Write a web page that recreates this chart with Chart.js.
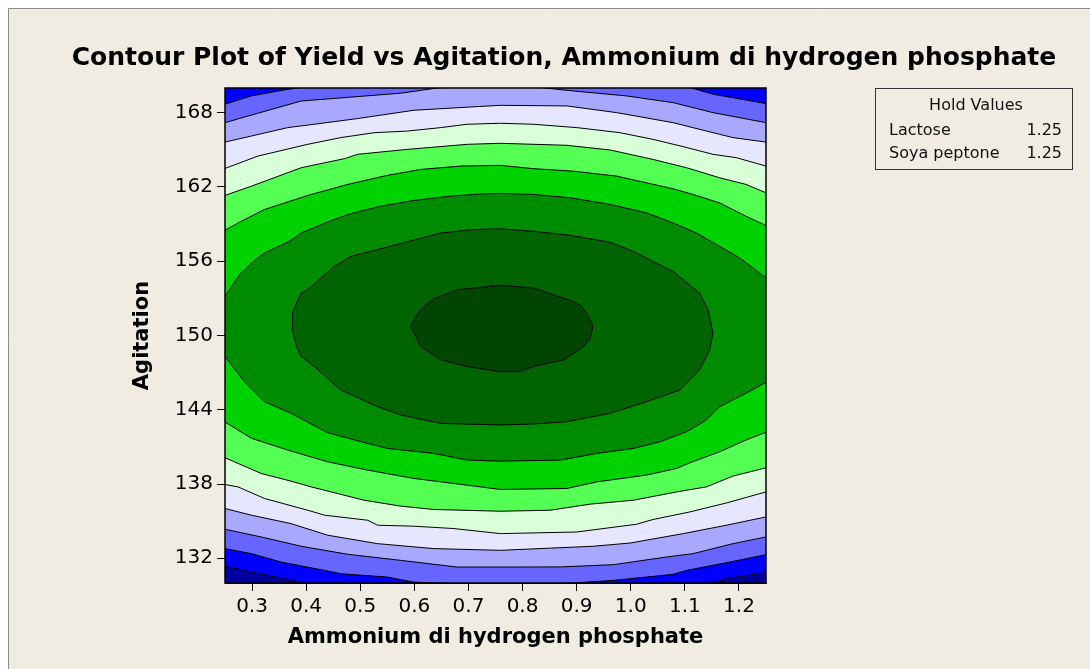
<!DOCTYPE html>
<html>
<head>
<meta charset="utf-8">
<title>Contour Plot of Yield</title>
<script src="https://cdn.jsdelivr.net/npm/chart.js@4/dist/chart.umd.min.js"></script>
<style>
  html, body { margin: 0; padding: 0; background: #ffffff; }
  #chart { display: block; }
</style>
</head>
<body>
<canvas id="chart" width="1090" height="669"></canvas>
<script>
// axis ticks
const xTicks = [0.3, 0.4, 0.5, 0.6, 0.7, 0.8, 0.9, 1.0, 1.1, 1.2];
const yTicks = [132, 138, 144, 150, 156, 162, 168];

// hold values box
const holdNames = ["Lactose", "Soya peptone"];
const holdValues = [1.25, 1.25];

// contour band colours, lowest yield first
const bandColors = ["#0000a0", "#0000ff", "#6666ff", "#a8a8ff", "#e6e6ff",
  "#d9ffd9", "#52ff52", "#00d200", "#008c00", "#006400", "#004600"];

// contour lines: [ammonium, agitation]
// botN / topN = lower / upper edge of band N (left to right)
const bot1 = [[0.25, 131.35], [0.299, 130.88], [0.36, 130.35], [0.40, 129.94], [0.75, 128.8],
  [1.144, 129.94], [1.177, 130.35], [1.25, 130.84]];
const top2 = [[0.25, 168.69], [0.299, 169.36], [0.36, 169.85], [0.391, 170.04], [0.75, 171.5],
  [1.109, 170.04], [1.152, 169.5], [1.25, 168.74]];
const bot2 = [[0.25, 132.78], [0.299, 132.37], [0.354, 131.69], [0.434, 131.02], [0.464, 130.75],
  [0.55, 130.48], [0.599, 130.07], [0.679, 129.94], [0.77, 129.6], [0.87, 129.94], [0.968, 130.21],
  [1.078, 130.70], [1.103, 131.02], [1.183, 131.69], [1.25, 132.29]];
const top3 = [[0.25, 167.20], [0.293, 167.74], [0.391, 168.95], [0.464, 169.2], [0.575, 169.58],
  [0.642, 170.0], [0.74, 170.3], [0.833, 170.04], [0.894, 169.76], [0.992, 169.36], [1.078, 168.82],
  [1.152, 168.01], [1.25, 167.20]];
const bot3 = [[0.25, 134.34], [0.317, 133.72], [0.391, 132.97], [0.477, 132.32], [0.575, 131.83],
  [0.679, 131.29], [0.759, 131.29], [0.87, 131.3], [0.968, 131.48], [1.066, 132.10], [1.115, 132.37],
  [1.189, 133.18], [1.25, 133.72]];
const top4 = [[0.25, 165.63], [0.299, 166.12], [0.366, 166.80], [0.415, 167.07], [0.495, 167.53],
  [0.599, 168.2], [0.698, 168.45], [0.759, 168.6], [0.882, 168.55], [0.974, 168.01], [1.078, 167.20],
  [1.14, 166.52], [1.189, 165.99], [1.25, 165.63]];
const bot4 = [[0.25, 136.02], [0.299, 135.48], [0.372, 134.80], [0.44, 133.86], [0.532, 133.18],
  [0.636, 132.78], [0.759, 132.64], [0.931, 132.97], [0.999, 133.23], [1.097, 133.99], [1.177, 134.67],
  [1.25, 135.34]];
const top5 = [[0.25, 163.50], [0.311, 164.50], [0.403, 165.45], [0.464, 165.99], [0.526, 166.39],
  [0.587, 166.52], [0.649, 166.80], [0.698, 167.07], [0.759, 167.15], [0.82, 167.07], [0.90, 166.80],
  [0.98, 166.39], [1.041, 165.85], [1.097, 165.26], [1.152, 164.64], [1.195, 164.37], [1.25, 163.69]];
const bot5 = [[0.25, 137.96], [0.274, 137.77], [0.323, 136.83], [0.403, 135.88], [0.434, 135.48],
  [0.514, 135.07], [0.532, 134.67], [0.599, 134.59], [0.673, 134.40], [0.759, 133.99], [0.90, 134.12],
  [1.011, 134.75], [1.041, 135.13], [1.109, 135.74], [1.177, 136.47], [1.25, 137.36]];
const top6 = [[0.25, 161.32], [0.299, 162.07], [0.391, 163.56], [0.471, 164.29], [0.495, 164.64],
  [0.587, 165.04], [0.698, 165.45], [0.759, 165.53], [0.882, 165.37], [0.962, 164.99], [1.041, 164.23],
  [1.103, 163.56], [1.164, 162.75], [1.213, 162.21], [1.25, 161.53]];
const bot6 = [[0.25, 140.12], [0.317, 138.85], [0.372, 138.23], [0.409, 137.77], [0.507, 136.69],
  [0.575, 136.21], [0.636, 135.94], [0.759, 135.80], [0.851, 135.88], [0.925, 136.37], [1.005, 136.69],
  [1.085, 137.36], [1.14, 137.77], [1.189, 138.64], [1.25, 139.31]];
const top7 = [[0.25, 158.51], [0.28, 159.23], [0.323, 160.18], [0.403, 161.32], [0.477, 162.21],
  [0.55, 162.94], [0.612, 163.42], [0.685, 163.69], [0.759, 163.75], [0.82, 163.48], [0.894, 163.28],
  [0.974, 162.88], [1.029, 162.34], [1.078, 161.86], [1.115, 161.40], [1.164, 160.72], [1.213, 159.64],
  [1.25, 158.89]];
const bot7 = [[0.25, 143.01], [0.299, 141.69], [0.366, 140.74], [0.44, 139.79], [0.514, 139.12],
  [0.599, 138.45], [0.673, 138.04], [0.759, 137.56], [0.882, 137.64], [0.937, 138.17], [1.029, 138.72],
  [1.085, 139.26], [1.109, 139.71], [1.164, 140.60], [1.213, 141.55], [1.25, 142.18]];
const top8 = [[0.25, 153.16], [0.277, 154.92], [0.299, 155.86], [0.323, 156.67], [0.369, 157.61],
  [0.391, 158.29], [0.428, 158.97], [0.477, 159.78], [0.538, 160.45], [0.599, 160.91], [0.667, 161.26],
  [0.728, 161.45], [0.759, 161.48], [0.82, 161.40], [0.888, 161.13], [0.962, 160.59], [1.029, 159.91],
  [1.078, 159.10], [1.121, 158.29], [1.164, 157.21], [1.201, 156.27], [1.226, 155.46], [1.25, 154.65]];
const bot8 = [[0.25, 148.30], [0.286, 146.27], [0.323, 144.65], [0.372, 143.71], [0.44, 142.14],
  [0.514, 141.28], [0.55, 140.88], [0.636, 140.47], [0.698, 139.93], [0.759, 139.85], [0.87, 139.93],
  [0.937, 140.47], [1.005, 140.88], [1.054, 141.41], [1.103, 142.22], [1.14, 143.17], [1.164, 144.25],
  [1.213, 145.33], [1.25, 146.23]];
// closed contours around the optimum
const ring9 = [[0.374, 150.60], [0.375, 151.9], [0.391, 153.43], [0.403, 153.70], [0.452, 155.59],
  [0.483, 156.40], [0.532, 156.94], [0.649, 158.29], [0.71, 158.56], [0.759, 158.62], [0.82, 158.42],
  [0.888, 158.10], [0.962, 157.53], [1.005, 156.80], [1.041, 155.99], [1.078, 155.18], [1.127, 153.43],
  [1.143, 152.08], [1.152, 150.19], [1.146, 148.84], [1.127, 147.22], [1.091, 145.60], [1.029, 144.65],
  [0.962, 143.71], [0.882, 143.03], [0.82, 142.85], [0.759, 142.77], [0.649, 142.90], [0.575, 143.58],
  [0.532, 144.25], [0.464, 145.60], [0.415, 147.49], [0.391, 148.30], [0.382, 149.11]];
const ring10 = [[0.593, 150.79], [0.609, 151.94], [0.633, 152.89], [0.679, 153.70], [0.759, 154.05],
  [0.82, 153.84], [0.894, 152.75], [0.91, 152.35], [0.928, 151.00], [0.93, 150.73], [0.925, 149.79],
  [0.913, 149.11], [0.876, 148.03], [0.82, 147.49], [0.793, 147.08], [0.759, 147.08], [0.698, 147.49],
  [0.649, 148.03], [0.612, 149.11]];

const FONT = "DejaVu Sans";

// a band that runs off both sides: close it outside the plot, the clip hides that part
function band(top, bot) {
  const t = top || [[0.15, 175], [1.35, 175]];
  const b = bot.slice().reverse();
  const pts = [[0.15, t[0][1]], ...t, [1.35, t[t.length - 1][1]],
    [1.35, b[0][1]], ...b, [0.15, b[b.length - 1][1]]];
  pts.push(pts[0]);
  return pts;
}
function ring(r) {
  return r.concat([r[0]]);
}

const shapes = [
  band(null, bot1), band(top2, bot2), band(top3, bot3), band(top4, bot4),
  band(top5, bot5), band(top6, bot6), band(top7, bot7), band(top8, bot8),
  ring(ring9), ring(ring10)
];

const datasets = shapes.map((pts, i) => ({
  data: pts.map(([x, y]) => ({ x, y })),
  showLine: true,
  fill: "shape",
  backgroundColor: bandColors[i + 1],
  borderColor: "#000000",
  borderWidth: 1,
  pointRadius: 0,
  pointHitRadius: 0,
  tension: 0,
  clip: 0,
  order: 20 - i
}));

const pagePlugin = {
  id: "page",
  beforeDraw(chart) {
    const ctx = chart.ctx;
    ctx.save();
    ctx.fillStyle = "#ffffff";
    ctx.fillRect(0, 0, chart.width, chart.height);
    ctx.fillStyle = "#f0ece2";
    ctx.fillRect(8, 8, chart.width - 8, chart.height - 8);
    ctx.strokeStyle = "#8a8a8a";
    ctx.lineWidth = 1;
    ctx.beginPath();
    ctx.moveTo(8.5, chart.height);
    ctx.lineTo(8.5, 8.5);
    ctx.lineTo(chart.width, 8.5);
    ctx.stroke();
    ctx.restore();
  },
  beforeDatasetsDraw(chart) {
    const { ctx, chartArea: a } = chart;
    ctx.save();
    ctx.fillStyle = bandColors[0];
    ctx.fillRect(a.left, a.top, a.right - a.left, a.bottom - a.top);
    ctx.restore();
  },
  afterDatasetsDraw(chart) {
    const { ctx, chartArea: a } = chart;
    ctx.save();
    ctx.strokeStyle = "#000000";
    ctx.lineWidth = 1.5;
    ctx.strokeRect(a.left, a.top, a.right - a.left, a.bottom - a.top);
    ctx.restore();
  },
  afterDraw(chart) {
    const ctx = chart.ctx;
    ctx.save();
    ctx.fillStyle = "#000000";
    ctx.font = "bold 25px '" + FONT + "'";
    ctx.textAlign = "center";
    ctx.textBaseline = "middle";
    ctx.fillText("Contour Plot of Yield vs Agitation, Ammonium di hydrogen phosphate", 564, 58);

    // hold values box
    ctx.strokeStyle = "#333333";
    ctx.lineWidth = 1;
    ctx.strokeRect(875.5, 88.5, 197, 81);
    ctx.font = "16px '" + FONT + "'";
    ctx.fillStyle = "#111111";
    ctx.fillText("Hold Values", 976, 106);
    holdNames.forEach((name, i) => {
      const y = 131 + i * 23;
      ctx.textAlign = "left";
      ctx.fillText(name, 889, y);
      ctx.textAlign = "right";
      ctx.fillText(holdValues[i].toFixed(2), 1062, y);
    });
    ctx.restore();
  }
};

const ctx = document.getElementById("chart").getContext("2d");
new Chart(ctx, {
  type: "scatter",
  data: { datasets },
  options: {
    responsive: false,
    animation: false,
    devicePixelRatio: 1,
    events: [],
    layout: { padding: { top: 88, right: 324, bottom: 0, left: 0 } },
    plugins: {
      legend: { display: false },
      tooltip: { enabled: false },
      filler: { propagate: false }
    },
    scales: {
      x: {
        type: "linear",
        min: 0.25,
        max: 1.25,
        afterBuildTicks: (s) => { s.ticks = xTicks.map((v) => ({ value: v })); },
        afterFit: (s) => { s.height = 86; },
        ticks: {
          color: "#000000",
          padding: 4,
          font: { family: FONT, size: 20 },
          callback: (v) => Number(v).toFixed(1)
        },
        grid: { drawOnChartArea: false, tickLength: 8, color: "#000000" },
        border: { color: "#000000" },
        title: {
          display: true,
          text: "Ammonium di hydrogen phosphate",
          color: "#000000",
          font: { family: FONT, size: 21, weight: "bold" },
          padding: { top: 0, bottom: 19 }
        }
      },
      y: {
        type: "linear",
        min: 130,
        max: 170,
        afterBuildTicks: (s) => { s.ticks = yTicks.map((v) => ({ value: v })); },
        afterFit: (s) => { s.width = 225; },
        ticks: {
          color: "#000000",
          padding: 4,
          font: { family: FONT, size: 20 }
        },
        grid: { drawOnChartArea: false, tickLength: 8, color: "#000000" },
        border: { color: "#000000" },
        title: {
          display: true,
          text: "Agitation",
          color: "#000000",
          font: { family: FONT, size: 21, weight: "bold" },
          padding: { top: 130, bottom: 0 }
        }
      }
    }
  },
  plugins: [pagePlugin]
});
</script>
</body>
</html>
